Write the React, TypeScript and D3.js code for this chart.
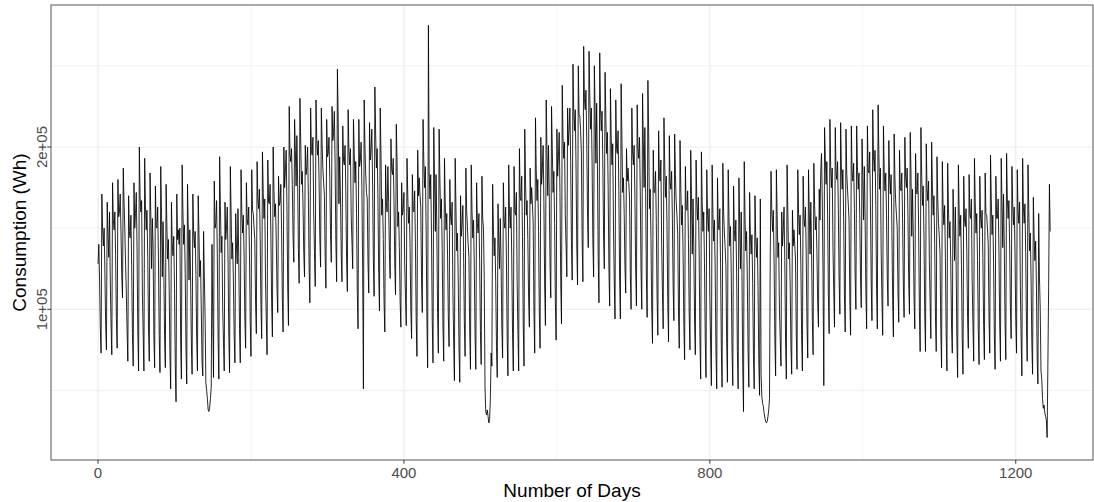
import React from "react";
import * as d3 from "d3";

// Daily consumption in thousands of Wh, one row per week (7 days).
const consumptionYear1: number[][] = [
  [128,140,118,88,73,171,149],[139,150,122,90,75,166,146],[132,160,118,91,72,178,155],[149,160,133,95,76,180,157],
  [160,171,148,121,107,187,166],[150,128,110,86,68,170,148],[144,158,127,85,65,178,150],[159,172,138,87,62,200,170],
  [160,167,110,86,62,193,164],[149,161,132,89,68,184,158],[125,156,139,84,64,176,151],[150,163,131,84,61,188,160],
  [120,154,126,84,64,177,152],[131,143,114,72,51,166,141],[133,145,113,66,43,171,143],[149,140,150,81,57,189,160],
  [140,152,122,76,54,177,150],[118,149,121,80,60,171,147],[138,148,121,81,62,170,146],[120,130,100,68,59,148,120],
  [95,55,50,45,38,37,40],[45,52,140,95,58,179,150],[153,167,132,82,57,194,164],[135,145,100,81,62,166,143],
  [150,163,131,84,61,188,160],[131,141,118,84,67,159,139],[128,162,132,88,67,186,160],[147,158,132,94,76,178,156],
  [152,163,134,92,71,186,161],[159,150,143,104,85,191,168],[162,174,145,103,82,197,172],[156,168,118,94,72,192,166],
  [165,177,147,104,83,200,174],[157,165,144,113,98,182,164],[166,177,149,107,86,200,175],[185,198,164,114,90,225,195],
  [191,199,177,145,129,217,198],[176,207,179,137,116,230,205],[177,185,165,135,120,201,183],[188,200,170,126,104,224,198],
  [195,206,160,135,114,229,204],[195,204,180,144,126,224,202],[186,178,170,132,113,217,194],[196,206,182,146,129,225,204],
  [209,222,189,141,117,248,219],[165,194,170,134,117,213,192],[189,201,173,131,111,223,198],[189,199,158,142,125,217,197],
  [178,191,159,111,88,217,188],[192,203,175,125,51,229,200],[184,172,168,129,110,215,192],[198,211,179,131,108,237,208],
];

const consumptionYear2: number[][] = [
  [187,199,168,122,99,224,196],[158,168,143,105,86,189,166],[160,188,166,135,119,205,186],[183,193,167,128,109,214,191],
  [151,160,138,105,89,178,158],[162,172,128,109,90,193,170],[153,163,138,100,82,183,161],[160,173,141,94,71,198,170],
  [181,170,163,119,98,217,191],[175,188,150,95,64,275,185],[168,183,147,93,67,212,180],[148,183,149,98,73,211,181],
  [156,168,137,91,68,193,165],[149,159,134,96,77,180,157],[152,166,112,81,56,193,163],[136,147,118,76,55,170,145],
  [152,164,135,92,71,187,161],[151,140,132,86,63,189,161],[144,155,126,84,63,178,153],[147,159,130,87,66,182,156],
  [150,119,52,37,35,38,34],[30,32,45,73,65,177,150],[133,144,117,77,58,165,141],[125,156,129,89,70,178,154],
  [150,163,131,82,59,189,160],[150,163,131,85,62,188,160],[158,172,118,87,62,199,169],[167,182,145,91,65,211,179],
  [158,167,143,107,89,187,165],[175,165,153,99,73,218,186],[167,180,148,99,76,206,177],[187,201,166,115,90,229,198],
  [170,201,172,128,107,225,199],[172,185,153,104,81,211,182],[194,209,172,117,91,238,206],[193,203,158,139,120,224,201],
  [211,224,191,142,118,251,222],[210,223,189,139,115,250,220],[219,210,197,143,117,262,230],[223,235,205,160,138,259,232],
  [211,224,192,143,120,250,221],[190,227,189,132,104,258,224],[210,222,192,147,125,246,219],[196,209,176,126,102,236,206],
  [189,202,150,118,94,229,199],[196,210,174,120,94,239,207],[172,181,159,126,110,199,179],[187,178,168,122,100,224,197],
  [189,201,170,124,102,226,199],[193,206,173,124,100,233,204],[175,212,175,121,95,241,209],[162,174,144,100,79,198,172],
];

const consumptionYear3: number[][] = [
  [172,185,153,107,84,210,182],[179,192,140,111,88,218,189],[169,182,150,103,80,207,179],[174,185,156,114,93,208,183],
  [166,158,146,99,76,204,176],[152,164,134,90,69,188,162],[161,173,143,97,75,198,171],[134,168,138,94,72,192,166],
  [155,169,134,82,57,197,166],[148,160,128,81,58,186,158],[148,162,108,78,53,189,159],[142,155,123,74,51,181,152],
  [149,162,128,77,52,190,160],[147,138,127,79,55,186,157],[139,151,121,75,53,176,149],[142,155,123,74,51,181,152],
  [125,160,122,65,37,191,157],[136,148,118,74,52,172,146],[134,146,116,72,51,170,144],[132,144,114,69,47,168,60],
  [46,42,40,36,33,31,30],[31,34,38,45,135,185,160],[148,161,129,82,59,186,158],[132,141,100,82,65,160,139],
  [149,163,130,81,57,189,160],[131,141,116,78,60,161,139],[149,140,131,85,63,186,159],[146,158,128,84,62,182,156],
  [151,163,134,91,70,186,160],[134,166,137,93,72,190,164],[149,157,136,104,89,174,155],[185,196,168,120,53,212,193],
  [177,191,158,109,85,217,188],[175,187,138,111,89,212,185],[180,191,162,118,97,215,189],[174,186,155,109,86,211,184],
  [174,165,155,107,84,213,185],[179,190,162,120,100,213,188],[174,184,158,120,101,205,182],[155,188,157,111,88,213,186],
  [184,197,165,116,93,223,194],[185,198,164,113,88,226,196],[174,187,136,107,84,213,185],[173,184,158,120,102,204,181],
  [171,183,152,106,83,208,181],[166,158,150,111,92,198,175],[173,184,156,115,95,206,182],[175,187,159,117,97,209,184],
  [145,174,147,107,88,196,172],[171,184,150,99,74,212,182],[164,176,144,97,74,202,174],[167,179,130,104,82,203,176],
];

const consumptionYear4: number[][] = [
  [158,170,140,96,74,194,168],[153,145,134,87,64,191,163],[152,164,132,85,62,190,162],[144,154,129,91,73,174,152],
  [130,163,130,82,58,189,160],[145,158,127,82,60,182,155],[151,162,135,95,76,183,159],[156,168,118,91,68,193,166],
  [147,159,130,87,66,182,156],[150,161,132,90,69,184,159],[158,150,140,95,73,195,168],[146,158,128,84,63,182,156],
  [156,168,137,91,68,193,166],[138,171,139,92,69,196,168],[156,167,140,101,82,188,165],[152,163,135,93,73,186,161],
  [153,166,114,83,59,193,163],[153,165,135,90,68,189,162],[136,147,120,80,60,169,145],[130,142,115,70,54,159,120],
  [100,62,57,45,39,41,36],[34,32,21,66,114,177,148],
];

const xTickValues = [0, 400, 800, 1200];
const xMinorValues = [200, 600, 1000];
const yTickValues = [100000, 200000];
const yTickLabels = ["1e+05", "2e+05"];
const yMinorValues = [50000, 150000, 250000];
const xTitle = "Number of Days";
const yTitle = "Consumption (Wh)";

type Pt = { day: number; wh: number };

export default function App() {
  const W = 1094;
  const H = 502;
  const left = 51;
  const right = 1093;
  const top = 5;
  const bottom = 460;

  const daily: Pt[] = [
    ...consumptionYear1,
    ...consumptionYear2,
    ...consumptionYear3,
    ...consumptionYear4,
  ]
    .flat()
    .map((v, i) => ({ day: i, wh: v * 1000 }));

  const x = d3.scaleLinear().domain([-61.5, 1301]).range([left, right]);
  const y = d3.scaleLinear().domain([7150, 287500]).range([bottom, top]);

  const path = d3
    .line<Pt>()
    .x((d) => x(d.day))
    .y((d) => y(d.wh))(daily) as string;

  const font = "'Liberation Sans', Arial, Helvetica, sans-serif";

  return (
    <div style={{ position: "absolute", left: 0, top: 0 }}>
      <svg width={W} height={H} style={{ display: "block", fontFamily: font }}>
        <rect x={0} y={0} width={W} height={H} fill="#ffffff" />
        {/* minor grid */}
        {xMinorValues.map((v) => (
          <line key={"xm" + v} x1={x(v)} x2={x(v)} y1={top} y2={bottom} stroke="#EBEBEB" strokeWidth={0.6} />
        ))}
        {yMinorValues.map((v) => (
          <line key={"ym" + v} x1={left} x2={right} y1={y(v)} y2={y(v)} stroke="#EBEBEB" strokeWidth={0.6} />
        ))}
        {/* major grid */}
        {xTickValues.map((v) => (
          <line key={"xg" + v} x1={x(v)} x2={x(v)} y1={top} y2={bottom} stroke="#EBEBEB" strokeWidth={1.1} />
        ))}
        {yTickValues.map((v) => (
          <line key={"yg" + v} x1={left} x2={right} y1={y(v)} y2={y(v)} stroke="#EBEBEB" strokeWidth={1.1} />
        ))}
        <path d={path} fill="none" stroke="#000000" strokeWidth={0.85} strokeLinejoin="round" />
        {/* panel border */}
        <rect x={left} y={top} width={right - left} height={bottom - top} fill="none" stroke="#555555" strokeWidth={1} />
        {/* x ticks */}
        {xTickValues.map((v) => (
          <g key={"xt" + v}>
            <line x1={x(v)} x2={x(v)} y1={bottom} y2={bottom + 3.7} stroke="#333333" strokeWidth={1} />
            <text x={x(v)} y={477.5} textAnchor="middle" fontSize={15} fill="#4D4D4D">
              {v}
            </text>
          </g>
        ))}
        {/* y ticks */}
        {yTickValues.map((v, i) => (
          <g key={"yt" + v}>
            <line x1={left - 3.7} x2={left} y1={y(v)} y2={y(v)} stroke="#333333" strokeWidth={1} />
            <text
              transform={`translate(${46.5},${y(v)}) rotate(-90)`}
              textAnchor="middle"
              fontSize={15}
              fill="#4D4D4D"
            >
              {yTickLabels[i]}
            </text>
          </g>
        ))}
        <text x={(left + right) / 2} y={497} textAnchor="middle" fontSize={19} fill="#000000">
          {xTitle}
        </text>
        <text
          transform={`translate(${25.5},${(top + bottom) / 2}) rotate(-90)`}
          textAnchor="middle"
          fontSize={19}
          fill="#000000"
        >
          {yTitle}
        </text>
      </svg>
    </div>
  );
}
